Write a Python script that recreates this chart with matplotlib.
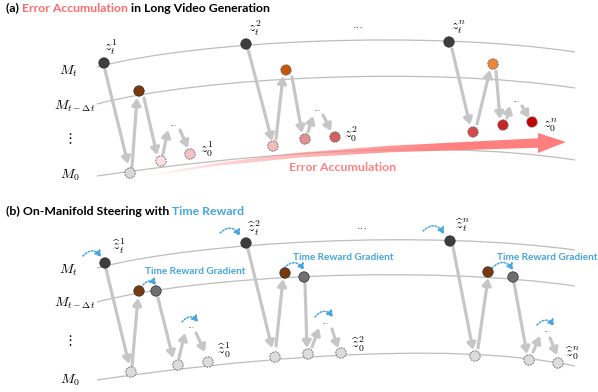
import numpy as np
import matplotlib
matplotlib.use("Agg")
import matplotlib.pyplot as plt
from matplotlib.patches import Circle, FancyArrowPatch, PathPatch, Polygon
from matplotlib.path import Path

W, H = 598, 392
plt.rcParams["mathtext.fontset"] = "cm"
TEXT_FONT = ["Lato", "DejaVu Sans"]

# ---------------------------------------------------------------- colours
DARK = "#3d3d3d"
BROWN = "#7a3a0e"
STEER = "#6f6f6f"
LIGHT = "#dcdcdc"
RED_TXT = "#ff6b6b"
BLUE = "#45a5e0"
ARROW_GREY = "#c6c6c6"
LINE_GREY = "#bdbdbd"

# ---------------------------------------------------------------- layout data
row_labels = [r"$M_t$", r"$M_{t-\Delta t}$", r"$\vdots$", r"$M_0$"]
row_label_x = [68, 75, 69, 70]
row_label_y_a = [71, 106, 139, 175]
row_label_y_b = [270, 303, 341, 380]

# manifold curves (cubic Bezier: start, ctrl1, ctrl2, end)
manifolds_a = [
    [(97, 67), (200, 40), (430, 30), (575, 52)],
    [(97, 104), (200, 77), (430, 66), (575, 88)],
    [(97, 176), (220, 158), (420, 136), (575, 160)],
]
manifolds_b = [
    [(97, 268), (200, 241), (430, 230), (575, 250)],
    [(97, 302), (200, 275), (430, 265), (575, 286)],
    [(97, 380), (220, 362), (440, 338), (575, 366)],
]

# panel (a): latent states
a_node_x = [104, 139, 130, 161, 190, 246, 286, 273, 305, 335, 449, 493, 473, 503, 532]
a_node_y = [63, 91, 173, 161, 154, 44, 70, 146, 139, 137, 42, 64, 132, 125, 122]
a_node_fill = [DARK, BROWN, "#d9d9d9", "#f9e0e0", "#f0c2c2",
               DARK, "#c4560e", "#f0bcbc", "#e29090", "#d36060",
               DARK, "#ef8535", "#d34c4c", "#c82626", "#c00000"]
a_node_dashed = [False, False, True, True, True,
                 False, True, True, True, True,
                 False, True, True, True, True]

# panel (a): denoising / re-noising steps
a_arrow_start = [(105, 70), (132, 167), (144, 98), (163, 154), (180, 130),
                 (248, 49), (276, 139), (292, 77), (308, 132), (323, 115),
                 (452, 49), (477, 124), (496, 71), (507, 118), (522, 106)]
a_arrow_end = [(128, 164), (137, 98), (157, 155), (168, 130), (188, 148),
               (272, 141), (283, 76), (302, 133), (313, 116), (331, 131),
               (470, 125), (490, 70), (500, 119), (510, 106), (529, 118)]

a_labels = [r"$z_t^1$", r"$z_t^2$", r"$z_t^n$", r"$z_0^1$", r"$z_0^2$", r"$z_0^n$"]
a_label_x = [111, 255, 458, 207, 351, 550]
a_label_y = [47, 28, 27, 149, 134, 125]

a_dots_x = [173, 317, 516]
a_dots_y = [123, 108, 99]
a_top_dots = (358, 25)

# error accumulation band: centreline and width
err_x = [137, 220, 300, 390, 538]
err_y = [177, 164, 155, 149, 143]
err_w = [0.0, 3.0, 5.0, 6.5, 9.5]
err_head = [(538, 133), (566, 142), (538, 153)]
err_label = "Error Accumulation"
err_label_xy = (343, 167)

# panel (b): latent states
b_node_x = [105, 139, 156, 131, 178, 208, 246, 285, 304, 275, 308, 341, 450, 488, 513, 475, 529, 558]
b_node_y = [263, 291, 291, 372, 365, 362, 243, 273, 277, 357, 354, 353, 241, 272, 277, 356, 360, 363]
b_node_fill = [DARK, BROWN, STEER, LIGHT, LIGHT, LIGHT,
               DARK, BROWN, STEER, LIGHT, LIGHT, LIGHT,
               DARK, BROWN, STEER, LIGHT, LIGHT, LIGHT]
b_node_dashed = [False, False, False, True, True, True,
                 False, False, False, True, True, True,
                 False, False, False, True, True, True]

b_arrow_start = [(106, 269), (132, 366), (158, 298), (179, 358), (196, 333),
                 (248, 249), (276, 346), (305, 283), (312, 347), (332, 329),
                 (453, 247), (478, 348), (514, 283), (533, 352), (550, 338)]
b_arrow_end = [(129, 364), (138, 298), (173, 358), (185, 333), (205, 352),
               (272, 348), (283, 279), (307, 348), (319, 328), (338, 348),
               (473, 350), (488, 278), (527, 354), (540, 336), (557, 355)]

b_labels = [r"$\widehat{z}_t^1$", r"$\widehat{z}_t^2$", r"$\widehat{z}_t^n$",
            r"$\widehat{z}_0^1$", r"$\widehat{z}_0^2$", r"$\widehat{z}_0^n$"]
b_label_x = [119, 254, 462, 224, 358, 572]
b_label_y = [246, 228, 225, 350, 344, 353]

b_dots_x = [191, 325, 547]
b_dots_y = [326, 321, 330]
b_top_dots = (362, 226)

# time-reward steering hops (start, end)
steer_start = [(83, 256), (143, 285), (182, 322),
               (220, 233), (284, 268), (315, 317),
               (423, 231), (492, 268), (537, 325)]
steer_end = [(101, 257), (156, 285), (198, 322),
             (240, 236), (304, 270), (333, 317),
             (444, 234), (513, 270), (554, 326)]

grad_label = "Time Reward Gradient"
grad_label_x = [195, 343, 547]
grad_label_y = [272, 257, 257]

title_a = [("(a) ", "black"), ("Error Accumulation", RED_TXT),
           (" in Long Video Generation", "black")]
title_b = [("(b) On-Manifold Steering with ", "black"), ("Time Reward", BLUE)]
title_a_xy = (6, 8)
title_b_xy = (6, 211)

# ---------------------------------------------------------------- figure
fig = plt.figure(figsize=(W / 100, H / 100), dpi=100)
ax = fig.add_axes([0, 0, 1, 1])
ax.set_xlim(0, W)
ax.set_ylim(H, 0)
ax.axis("off")
renderer = fig.canvas.get_renderer()


def draw_manifold(pts):
    path = Path(pts, [Path.MOVETO, Path.CURVE4, Path.CURVE4, Path.CURVE4])
    ax.add_patch(PathPatch(path, fill=False, edgecolor=LINE_GREY, lw=0.9, zorder=1))


def draw_nodes(xs, ys, fills, dashed):
    for x, y, c, d in zip(xs, ys, fills, dashed):
        if d:
            ax.add_patch(Circle((x, y), 5.2, facecolor=c, edgecolor="#666666",
                                lw=0.7, linestyle=(0, (1.6, 1.2)), zorder=5))
        else:
            ax.add_patch(Circle((x, y), 5.2, facecolor=c, edgecolor="#2a2a2a",
                                lw=0.5, zorder=5))


def draw_steps(starts, ends):
    for s, e in zip(starts, ends):
        ax.add_patch(FancyArrowPatch(s, e, arrowstyle="-|>,head_length=0.45,head_width=0.28",
                                     mutation_scale=9, color=ARROW_GREY, lw=2.3,
                                     shrinkA=0, shrinkB=0, zorder=3))


def draw_hops(starts, ends):
    for s, e in zip(starts, ends):
        ax.add_patch(FancyArrowPatch(s, e, connectionstyle="arc3,rad=-0.6",
                                     arrowstyle="-|>,head_length=0.5,head_width=0.3",
                                     mutation_scale=7, color=BLUE, lw=1.1,
                                     linestyle=(0, (1, 1.2)), shrinkA=0, shrinkB=0,
                                     zorder=4))


def colored_text(x, y, pieces, **kw):
    probe = ax.text(0, 0, "x", **kw)
    base = probe.get_window_extent(renderer).width
    probe.remove()
    prefix = ""
    for s, c in pieces:
        t = ax.text(0, 0, prefix + "x", **kw)
        off = t.get_window_extent(renderer).width - base if prefix else 0.0
        t.remove()
        ax.text(x + off, y, s, color=c, **kw)
        prefix += s


title_kw = dict(fontsize=8.8, fontweight="bold", family=TEXT_FONT, va="center", ha="left")
colored_text(*title_a_xy, title_a, **title_kw)
colored_text(*title_b_xy, title_b, **title_kw)

for lab, lx, ly in zip(row_labels, row_label_x, row_label_y_a):
    ax.text(lx, ly, lab, fontsize=10, ha="center", va="center")
for lab, lx, ly in zip(row_labels, row_label_x, row_label_y_b):
    ax.text(lx, ly, lab, fontsize=10, ha="center", va="center")

for m in manifolds_a + manifolds_b:
    draw_manifold(m)

# error accumulation band with a fading fill
ex = np.array(err_x, float)
ey = np.array(err_y, float)
ew = np.array(err_w, float)
top = list(zip(ex, ey - ew / 2))
bot = list(zip(ex[::-1], (ey + ew / 2)[::-1]))
band = Polygon(top + err_head + bot, closed=True, facecolor="none", edgecolor="none")
ax.add_patch(band)
ramp = np.zeros((1, 256, 4))
ramp[..., 0] = 1.0
ramp[..., 1] = 0.50
ramp[..., 2] = 0.50
ramp[..., 3] = np.clip(np.linspace(0.08, 1.35, 256), 0, 1)
img = ax.imshow(ramp, extent=(err_x[0], err_head[1][0], 180, 130), aspect="auto",
                interpolation="bilinear", zorder=2)
img.set_clip_path(band)
ax.set_xlim(0, W)
ax.set_ylim(H, 0)
ax.text(*err_label_xy, err_label, color="#ff8080", fontsize=8.9, fontweight="bold",
        family=TEXT_FONT, ha="center", va="center")

draw_steps(a_arrow_start, a_arrow_end)
draw_steps(b_arrow_start, b_arrow_end)
draw_nodes(a_node_x, a_node_y, a_node_fill, a_node_dashed)
draw_nodes(b_node_x, b_node_y, b_node_fill, b_node_dashed)
draw_hops(steer_start, steer_end)

for lab, lx, ly in zip(a_labels, a_label_x, a_label_y):
    ax.text(lx, ly, lab, fontsize=10, ha="center", va="center")
for lab, lx, ly in zip(b_labels, b_label_x, b_label_y):
    ax.text(lx, ly, lab, fontsize=10, ha="center", va="center")

for dx, dy in zip(a_dots_x + b_dots_x, a_dots_y + b_dots_y):
    ax.text(dx, dy, "...", fontsize=5.5, color="#444444", ha="center", va="center")
for dx, dy in (a_top_dots, b_top_dots):
    ax.text(dx, dy, "...", fontsize=8, color="#222222", ha="center", va="center")

for gx, gy in zip(grad_label_x, grad_label_y):
    ax.text(gx, gy, grad_label, color=BLUE, fontsize=7.2, fontweight="bold",
            family=TEXT_FONT, ha="center", va="center")

fig.savefig("out.png", dpi=100)
